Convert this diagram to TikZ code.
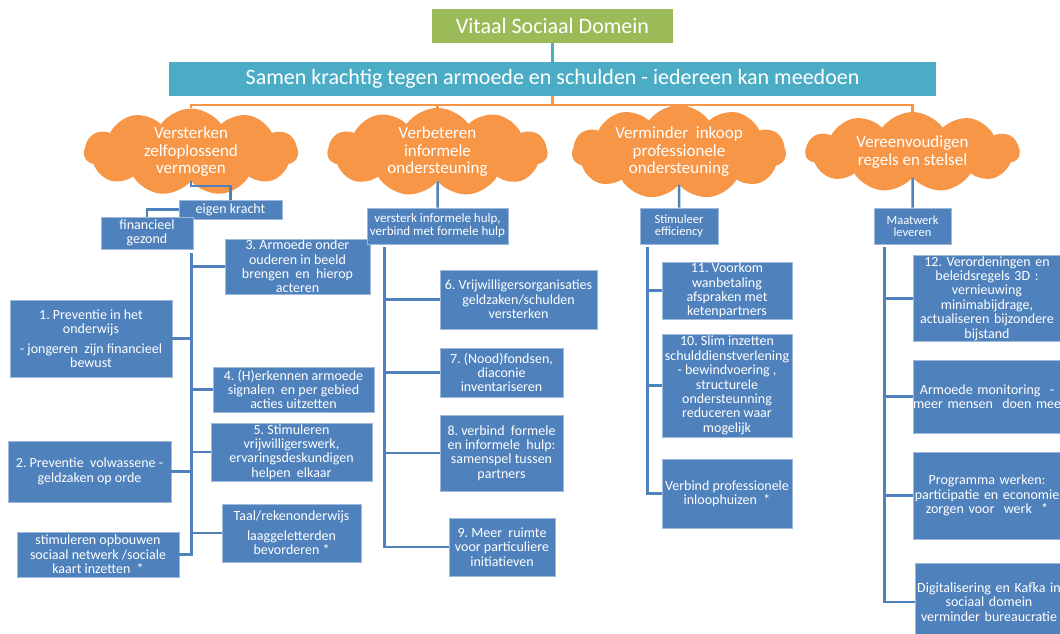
\documentclass[tikz,border=0pt]{standalone}
\usepackage{fontspec}
\setmainfont{Carlito}
\usetikzlibrary{shapes.symbols}
\definecolor{boxblue}{HTML}{4F81BD}
\definecolor{bannerteal}{HTML}{4BACC6}
\definecolor{cloudorange}{HTML}{F79646}
\definecolor{titlegreen}{HTML}{9BBB59}
\frenchspacing

\tikzset{
  blok/.style={fill=boxblue, draw=boxblue!55!white, line width=0.7pt, text=white,
    align=center, inner xsep=0pt, inner ysep=1pt, font=\fontsize{14}{14.4}\selectfont},
  kopblok/.style={blok, font=\fontsize{13}{13}\selectfont},
  randblok/.style={blok, text width=148pt},
  wolk/.style={cloud, cloud puffs=11, cloud puff arc=110, cloud ignores aspect,
    fill=cloudorange, text=white, align=center, inner sep=0pt,
    minimum width=214pt, minimum height=80pt, font=\fontsize{17}{17.5}\selectfont},
  tak/.style={draw=boxblue, line width=2.5pt},
  oranjelijn/.style={draw=cloudorange, line width=2.5pt},
}

\begin{document}
\begin{tikzpicture}[x=1pt,y=-1pt]
  \fill[white] (0,0) rectangle (1060,634);
  \useasboundingbox (0,0) rectangle (1060,634);

  % Define nodes
  \node[fill=titlegreen, text=white, minimum width=241pt, minimum height=34pt,
    font=\fontsize{22}{22}\selectfont] (titel) at (552.5,26) {Vitaal Sociaal Domein};
  \node[fill=bannerteal, text=white, minimum width=767pt, minimum height=34pt,
    font=\fontsize{22}{22}\selectfont] (kop) at (552.5,79)
    {Samen krachtig tegen armoede en schulden - iedereen kan meedoen};

  \node[wolk] (w1) at (191,152) {Versterken\\zelfoplossend\\vermogen};
  \node[wolk, minimum width=220pt] (w2) at (437.5,152) {Verbeteren\\informele\\ondersteuning};
  \node[wolk] (w3) at (679,152) {Verminder\ \ inkoop\\professionele\\ondersteuning};
  \node[wolk] (w4) at (912.5,152) {Vereenvoudigen\\regels en stelsel};

  % column 1
  \node[blok, minimum width=103pt, minimum height=19pt] (ek) at (230.5,209.5) {eigen kracht};
  \node[blok, minimum width=92pt, minimum height=32pt] (fin) at (147,233) {financieel\\gezond};
  \node[blok, minimum width=145pt, minimum height=53pt] (b3) at (297.5,266.5)
    {3. Armoede onder\\ouderen in beeld\\brengen\ \ en\ \ hierop\\acteren};
  \node[blok, minimum width=162pt, minimum height=77pt] (b1) at (91,338.5)
    {1. Preventie in het\\onderwijs\\[5pt]- jongeren\ \ zijn financieel\\bewust};
  \node[blok, minimum width=161pt, minimum height=45pt] (b4) at (293.5,389.5)
    {4. (H)erkennen armoede\\signalen\ \ en per gebied\\acties uitzetten};
  \node[blok, minimum width=161pt, minimum height=58pt] (b5) at (291.5,452)
    {5. Stimuleren\\vrijwilligerswerk,\\ervaringsdeskundigen\\helpen\ \ elkaar};
  \node[blok, minimum width=163pt, minimum height=61pt] (b2) at (89.5,471.5)
    {2. Preventie\ \ volwassene -\\geldzaken op orde};
  \node[blok, minimum width=139pt, minimum height=58pt] (taal) at (291.5,533)
    {Taal/rekenonderwijs\\[5pt]laaggeletterden\\bevorderen *};
  \node[blok, minimum width=162pt, minimum height=45pt] (netwerk) at (98,554.5)
    {stimuleren opbouwen\\sociaal netwerk /sociale\\kaart inzetten\ \ *};

  % column 2
  \node[kopblok, minimum width=141pt, minimum height=36pt] (v2) at (437.5,226)
    {versterk informele hulp,\\verbind met formele hulp};
  \node[blok, minimum width=157pt, minimum height=59pt] (b6) at (518.5,299.5)
    {6. Vrijwilligersorganisaties\\geldzaken/schulden\\versterken};
  \node[blok, minimum width=123pt, minimum height=49pt] (b7) at (501.5,372.5)
    {7. (Nood)fondsen,\\diaconie\\inventariseren};
  \node[blok, minimum width=123pt, minimum height=76pt] (b8) at (501.5,453)
    {8. verbind\ \ formele\\en informele\ \ hulp:\\samenspel tussen\\partners};
  \node[blok, minimum width=106pt, minimum height=58pt] (b9) at (502,547)
    {9. Meer\ \ ruimte\\voor particuliere\\initiatieven};

  % column 3
  \node[kopblok, font=\fontsize{12.5}{12.5}\selectfont, minimum width=78pt, minimum height=36pt]
    (se) at (679,226) {Stimuleer\\efficiency};
  \node[blok, minimum width=130pt, minimum height=57pt] (b11) at (727,290.5)
    {11. Voorkom\\wanbetaling\\afspraken met\\ketenpartners};
  \node[blok, minimum width=130pt, minimum height=103pt] (b10) at (727,385.5)
    {10. Slim inzetten\\schulddienstverlening\\- bewindvoering ,\\structurele\\ondersteunning\\reduceren waar\\mogelijk};
  \node[blok, minimum width=130pt, minimum height=69pt] (vp) at (727,493.5)
    {Verbind professionele\\inloophuizen\ \ *};

  % column 4
  \node[kopblok, font=\fontsize{12.5}{12.5}\selectfont, minimum width=77pt, minimum height=36pt]
    (mw) at (912.5,226) {Maatwerk\\leveren};
  \node[randblok, minimum height=83pt] (b12) at (987,298.5)
    {\mbox{12. Verordeningen en}\\\mbox{beleidsregels 3D :}\\vernieuwing\\minimabijdrage,\\\mbox{actualiseren bijzondere}\\bijstand};
  \node[randblok, minimum height=73pt] (mon) at (987,396.5)
    {\mbox{Armoede monitoring\ \ -}\\\mbox{meer mensen\ \ doen mee}\\*};
  \node[randblok, minimum height=87pt] (prog) at (987,495.5)
    {\mbox{Programma werken:}\\\mbox{participatie en economie}\\\mbox{zorgen voor\ \ werk\ \ *}};
  \node[randblok, minimum height=78pt] (dig) at (989,602)
    {\mbox{Digitalisering en Kafka in}\\\mbox{sociaal domein}\\\mbox{verminder bureaucratie}\\*};

  % connectors
  \draw[draw=bannerteal, line width=2.5pt] (titel) -- (kop);
  \draw[oranjelijn] (kop.south) -- ++(0,9) coordinate (bus);
  \draw[oranjelijn] (bus) -| (w1.north);
  \draw[oranjelijn] (bus) -| (w2.north);
  \draw[oranjelijn] (bus) -| (w3.north);
  \draw[oranjelijn] (bus) -| (w4.north);

  \draw[tak] (w1.south) -- ++(0,5) -| (ek.north);
  \draw[tak] (ek.west) -| (fin.north);
  \draw[tak] (w2.south) -- (v2.north);
  \draw[tak] (w3.south) -- (se.north);
  \draw[tak] (w4.south) -- (mw.north);

  \coordinate (s1) at ([xshift=-2pt,yshift=-4pt]fin.south east);
  \draw[tak] (s1) |- (b3.west);
  \draw[tak] (s1) |- (b1.east);
  \draw[tak] (s1) |- (b4.west);
  \draw[tak] (s1) |- (b5.west);
  \draw[tak] (s1) |- (b2.east);
  \draw[tak] (s1) |- (taal.west);
  \draw[tak] (s1) |- (netwerk.east);

  \coordinate (s2) at ([xshift=18pt,yshift=-3pt]v2.south west);
  \draw[tak] (s2) |- (b6.west);
  \draw[tak] (s2) |- (b7.west);
  \draw[tak] (s2) |- (b8.west);
  \draw[tak] (s2) |- (b9.west);

  \coordinate (s3) at ([xshift=8pt,yshift=-3pt]se.south west);
  \draw[tak] (s3) |- (b11.west);
  \draw[tak] (s3) |- (b10.west);
  \draw[tak] (s3) |- (vp.west);

  \coordinate (s4) at ([xshift=11pt,yshift=-3pt]mw.south west);
  \draw[tak] (s4) |- (b12.west);
  \draw[tak] (s4) |- (mon.west);
  \draw[tak] (s4) |- (prog.west);
  \draw[tak] (s4) |- (dig.west);
\end{tikzpicture}
\end{document}
